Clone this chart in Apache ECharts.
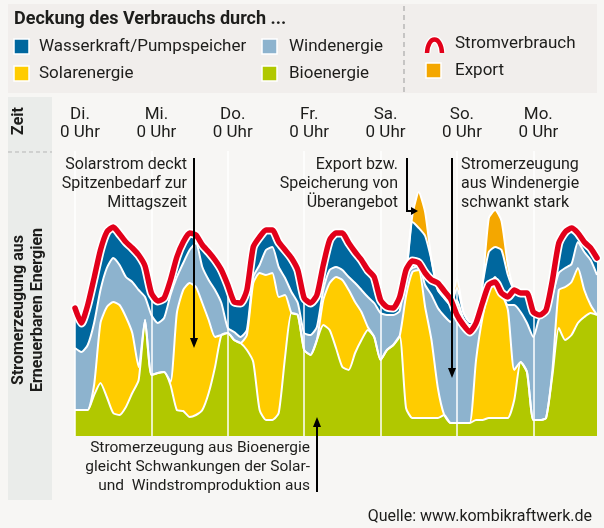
<!DOCTYPE html>
<html lang="de">
<head>
<meta charset="utf-8">
<title>Deckung des Verbrauchs durch erneuerbare Energien</title>
<script src="https://cdn.jsdelivr.net/npm/echarts@6/dist/echarts.min.js"></script>
<style>
  html, body { margin: 0; padding: 0; background: #f7f6f4; }
  #chart { width: 604px; height: 528px; }
</style>
</head>
<body>
<div id="chart"></div>
<script>
// One sample every 2 hours, starting Tuesday 0 Uhr (relative units)
const hours = [0, 2, 4, 6, 8, 10, 12, 14, 16, 18, 20, 22, 24, 26, 28, 30, 32, 34, 36, 38,
  40, 42, 44, 46, 48, 50, 52, 54, 56, 58, 60, 62, 64, 66, 68, 70, 72, 74, 76, 78,
  80, 82, 84, 86, 88, 90, 92, 94, 96, 98, 100, 102, 104, 106, 108, 110, 112, 114, 116, 118,
  120, 122, 124, 126, 128, 130, 132, 134, 136, 138, 140, 142, 144, 146, 148, 150, 152, 154, 156, 158,
  160, 162, 164];

const dayNames = ['Di.', 'Mi.', 'Do.', 'Fr.', 'Sa.', 'So.', 'Mo.'];
const dayStarts = ['0', '24', '48', '72', '96', '120', '144'];

const bio = [26, 26, 26, 41, 53, 39, 23, 21, 29, 43, 56, 116, 61, 63, 64, 51, 26, 25, 19, 21,
  26, 43, 69, 101, 103, 96, 93, 86, 74, 26, 16, 16, 23, 79, 123, 121, 86, 81, 96, 111,
  106, 88, 69, 66, 83, 96, 106, 99, 76, 86, 91, 100, 28, 18, 18, 18, 18, 18, 21, 13,
  13, 13, 13, 16, 16, 18, 18, 18, 18, 36, 74, 64, 16, 16, 18, 61, 108, 96, 101, 113,
  119, 123, 121];

const solar = [0, 0, 0, 10, 60, 90, 111, 110, 90, 60, 13, 0, 0, 0, 0, 3, 97, 121, 134, 128,
  107, 73, 30, 0, 0, 0, 0, 15, 79, 137, 145, 147, 116, 62, 0, 0, 0, 0, 0, 25,
  47, 71, 87, 80, 51, 28, 3, 0, 0, 0, 0, 0, 112, 146, 148, 111, 78, 30, 0, 0,
  0, 0, 0, 60, 102, 126, 138, 125, 108, 30, 0, 0, 0, 0, 0, 5, 38, 53, 53, 55,
  27, 8, 0];

const wind = [62, 58, 65, 62, 33, 39, 44, 40, 40, 51, 77, 23, 60, 50, 54, 87, 36, 27, 33, 44,
  36, 40, 47, 32, 5, 8, 6, 5, 6, 8, 25, 26, 30, 17, 21, 12, 17, 20, 13, 10,
  13, 10, 10, 13, 19, 22, 30, 34, 47, 35, 30, 25, 21, 4, 4, 22, 45, 80, 99, 101,
  123, 105, 98, 38, 8, 5, 3, 3, 5, 65, 50, 49, 83, 103, 105, 75, 17, 19, 18, 26,
  38, 45, 40];

const hydro = [40, 29, 40, 45, 40, 36, 31, 31, 35, 34, 35, 31, 22, 22, 20, 15, 20, 21, 17, 8,
  22, 28, 30, 33, 43, 30, 34, 40, 30, 28, 20, 17, 25, 28, 34, 33, 35, 32, 32, 25,
  30, 34, 37, 34, 31, 30, 27, 26, 13, 8, 7, 14, 0, 46, 38, 49, 35, 18, 18, 17,
  12, 6, 3, 0, 25, 35, 30, 40, 30, 15, 19, 30, 25, 2, 3, 15, 30, 36, 34, 7,
  10, 12, 17];

const surplus = [0, 0, 0, 0, 0, 0, 0, 0, 0, 0, 0, 0, 0, 0, 0, 0, 0, 0, 0, 0,
  0, 0, 0, 0, 0, 0, 0, 0, 0, 0, 0, 0, 0, 0, 0, 0, 0, 0, 0, 0,
  0, 0, 0, 0, 0, 0, 0, 0, 0, 0, 0, 0, 0, 7, 36, 24, 0, 0, 0, 0,
  10, 0, 0, 0, 0, 34, 37, 29, 10, 0, 0, 0, 0, 0, 0, 0, 0, 0, 0, 0,
  0, 0, 0];

const consumption = [128, 113, 131, 158, 186, 204, 209, 202, 194, 188, 181, 170, 143, 135, 138, 156, 179, 194, 203, 201,
  191, 184, 176, 166, 151, 134, 133, 146, 189, 199, 206, 206, 194, 186, 178, 166, 138, 133, 141, 171,
  196, 203, 203, 193, 184, 176, 166, 159, 136, 129, 128, 139, 166, 175, 173, 163, 156, 153, 145, 137,
  121, 111, 104, 113, 133, 151, 154, 143, 139, 146, 143, 143, 124, 121, 126, 156, 193, 204, 208, 203,
  194, 188, 178];

const layers = [
  { name: 'Bioenergie', data: bio, color: '#b1c800' },
  { name: 'Solarenergie', data: solar, color: '#ffcc00' },
  { name: 'Windenergie', data: wind, color: '#8db3ce' },
  { name: 'Wasserkraft/Pumpspeicher', data: hydro, color: '#00679e' },
  { name: 'Export', data: surplus, color: '#f4a700' }
];

const FONT = 'Roboto';
const TEXT = '#1d1d1b';
const SMOOTH = 0.2;

const chart = echarts.init(document.getElementById('chart'), null, { renderer: 'canvas' });

// filled stacked areas
const areaSeries = layers.map(l => ({
  name: l.name,
  type: 'line',
  stack: 'gen',
  data: l.data,
  smooth: SMOOTH,
  symbol: 'none',
  lineStyle: { width: 0 },
  itemStyle: { color: l.color },
  areaStyle: { color: l.color, opacity: 1 },
  z: 2,
  silent: true
}));

// white borders on top of every layer
const edgeSeries = layers.map((l, i) => {
  const s = {
    name: l.name + ' Rand',
    type: 'line',
    stack: 'edge',
    data: l.data,
    smooth: SMOOTH,
    symbol: 'none',
    lineStyle: { color: '#ffffff', width: 2, join: 'round' },
    z: 3,
    silent: true
  };
  if (i === layers.length - 1) {
    // white day separators
    s.markLine = {
      silent: true,
      symbol: ['none', 'none'],
      label: { show: false },
      lineStyle: { color: '#ffffff', width: 1.5, type: 'solid' },
      data: dayStarts.map(d => ({ xAxis: d }))
    };
  }
  return s;
});

const consumptionSeries = [
  {
    name: 'Stromverbrauch Rand',
    type: 'line',
    data: consumption,
    smooth: SMOOTH,
    symbol: 'none',
    lineStyle: { color: '#ffffff', width: 9, join: 'round', cap: 'round' },
    z: 9,
    silent: true
  },
  {
    name: 'Stromverbrauch',
    type: 'line',
    data: consumption,
    smooth: SMOOTH,
    symbol: 'none',
    lineStyle: { color: '#e2001a', width: 5.5, join: 'round', cap: 'round' },
    z: 10,
    silent: true
  }
];

function txt(x, y, text, opts) {
  return {
    type: 'text', x: x, y: y, silent: true, z: 30,
    style: Object.assign({ text: text, fill: TEXT, fontFamily: FONT, fontSize: 16,
      textAlign: 'left', textVerticalAlign: 'middle' }, opts || {})
  };
}

function vtxt(x, y, text) {
  const t = txt(x, y, text, { fontSize: 16, fontWeight: 'bold', textAlign: 'center' });
  t.rotation = Math.PI / 2;
  return t;
}

function square(x, y, color) {
  return {
    type: 'rect', silent: true,
    shape: { x: x, y: y, width: 15, height: 15 },
    style: { fill: color, stroke: '#ffffff', lineWidth: 1.5 }
  };
}

function arrowLine(points, head) {
  return [
    { type: 'polyline', silent: true, z: 20, shape: { points: points },
      style: { stroke: '#000000', lineWidth: 2, fill: null } },
    { type: 'polygon', silent: true, z: 20, shape: { points: head },
      style: { fill: '#000000' } }
  ];
}

const arch = { x1: 427, y1: 53, cpx1: 428, cpy1: 35, cpx2: 441, cpy2: 35, x2: 442, y2: 53 };

const graphics = [
  // header box
  { type: 'rect', silent: true, z: -10, shape: { x: 8, y: 4, width: 589, height: 89 },
    style: { fill: '#f1eeec' } },
  { type: 'line', silent: true, z: -9, shape: { x1: 404, y1: 6, x2: 404, y2: 92 },
    style: { stroke: '#9b9b9b', lineWidth: 1, lineDash: [5, 4] } },
  // left strip
  { type: 'rect', silent: true, z: -10, shape: { x: 8, y: 97, width: 44, height: 403 },
    style: { fill: '#eaecea' } },
  { type: 'line', silent: true, z: -9, shape: { x1: 8, y1: 152, x2: 52, y2: 152 },
    style: { stroke: '#b5b5b5', lineWidth: 1, lineDash: [4, 3] } },

  txt(14, 19, 'Deckung des Verbrauchs durch ...', { fontSize: 18, fontWeight: 'bold' }),
  square(14, 39, '#00679e'), txt(39, 47, 'Wasserkraft/Pumpspeicher', { fontSize: 17 }),
  square(14, 66, '#ffcc00'), txt(39, 74, 'Solarenergie', { fontSize: 17 }),
  square(262, 39, '#8db3ce'), txt(289, 47, 'Windenergie', { fontSize: 17 }),
  square(262, 66, '#b1c800'), txt(289, 74, 'Bioenergie', { fontSize: 17 }),
  { type: 'bezierCurve', silent: true, shape: arch,
    style: { stroke: '#ffffff', lineWidth: 7, fill: null } },
  { type: 'bezierCurve', silent: true, shape: arch,
    style: { stroke: '#e2001a', lineWidth: 4.5, fill: null } },
  txt(455, 44, 'Stromverbrauch', { fontSize: 17 }),
  square(426, 63, '#f4a700'), txt(455, 71, 'Export', { fontSize: 17 }),

  // vertical titles
  vtxt(19, 121, 'Zeit'),
  vtxt(19, 310, 'Stromerzeugung aus'),
  vtxt(38, 310, 'Erneuerbaren Energien'),

  // annotations
  txt(187, 184, 'Solarstrom deckt\nSpitzenbedarf zur\nMittagszeit',
    { textAlign: 'right', lineHeight: 19 }),
  txt(398, 184, 'Export bzw.\nSpeicherung von\nÜberangebot',
    { textAlign: 'right', lineHeight: 19 }),
  txt(461, 184, 'Stromerzeugung\naus Windenergie\nschwankt stark',
    { textAlign: 'left', lineHeight: 19 }),
  txt(310, 467, 'Stromerzeugung aus Bioenergie\ngleicht Schwankungen der Solar-\nund  Windstromproduktion aus',
    { textAlign: 'right', lineHeight: 19, fontSize: 15.5 }),
  txt(592, 517, 'Quelle: www.kombikraftwerk.de', { textAlign: 'right' })
].concat(
  arrowLine([[194, 158], [194, 340]], [[190, 338], [198, 338], [194, 348]]),
  arrowLine([[407, 158], [407, 211], [412, 211]], [[411, 207], [411, 215], [418, 211]]),
  arrowLine([[452, 158], [452, 370]], [[448, 368], [456, 368], [452, 378]]),
  arrowLine([[317, 492], [317, 425]], [[313, 427], [321, 427], [317, 417]])
);

chart.setOption({
  animation: false,
  backgroundColor: '#f7f6f4',
  grid: { left: 75, right: 7, top: 151, bottom: 92 },
  xAxis: {
    type: 'category',
    position: 'top',
    boundaryGap: false,
    data: hours,
    axisLine: { show: false },
    axisTick: { show: false },
    splitLine: { show: false },
    axisLabel: {
      interval: (index) => index % 12 === 0,
      margin: 9,
      color: TEXT,
      fontFamily: FONT,
      fontSize: 17,
      lineHeight: 18,
      padding: [0, 0, 0, 10],
      formatter: (value, index) => dayNames[index / 12] + '\n0 Uhr'
    }
  },
  yAxis: { type: 'value', min: 0, max: 285, show: false },
  series: areaSeries.concat(edgeSeries, consumptionSeries),
  graphic: graphics
});

window.addEventListener('resize', () => chart.resize());
</script>
</body>
</html>
